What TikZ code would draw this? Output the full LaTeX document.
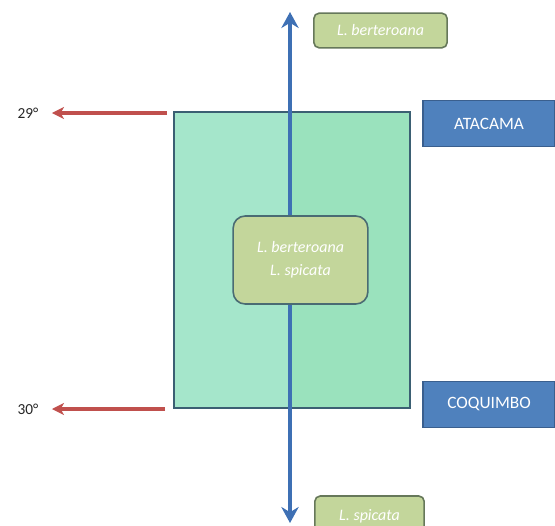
\documentclass[tikz,border=0pt]{standalone}
\usepackage{fontspec}
\setmainfont{Carlito}
\usetikzlibrary{arrows.meta}
\definecolor{zoneL}{HTML}{A5E6CB}
\definecolor{zoneR}{HTML}{9AE2BD}
\definecolor{zoneline}{HTML}{3B5F73}
\definecolor{taxonfill}{HTML}{C3D69B}
\definecolor{taxonline}{HTML}{66785A}
\definecolor{coreline}{HTML}{4A6B73}
\definecolor{provfill}{HTML}{4F81BD}
\definecolor{provline}{HTML}{3A5F8E}
\definecolor{axisblue}{HTML}{3E70B4}
\definecolor{latred}{HTML}{C0504D}
\tikzset{
  zone/.style={draw=zoneline, line width=1.8pt, fill=zoneL, minimum width=177pt, minimum height=222pt,
    path picture={\fill[zoneR] ([xshift=-1.5pt]path picture bounding box.north) rectangle (path picture bounding box.south east);}},
  taxon/.style={draw=taxonline, fill=taxonfill, line width=1.2pt, rounded corners=4pt, text=white,
    font=\fontsize{12}{17}\selectfont\itshape},
  province/.style={draw=provline, fill=provfill, line width=0.8pt, text=white, minimum width=99pt,
    minimum height=35pt, font=\fontsize{13}{15}\selectfont},
  lat/.style={inner sep=0pt, text=black!85, font=\fontsize{11.5}{13}\selectfont},
  axis/.style={draw=axisblue, line width=3pt, {Stealth[length=12pt,width=13pt]}-{Stealth[length=12pt,width=13pt]}},
  latarrow/.style={draw=latred, line width=2.8pt, -{Stealth[length=9pt,width=9pt,inset=2.5pt]}, shorten >=10pt}
}
\begin{document}
\begin{tikzpicture}[x=0.75pt, y=-0.75pt]
\useasboundingbox (0,0) rectangle (555,525);
\node[zone] (zone) at (292,260) {};

\coordinate (top) at (290,12);
\coordinate (bottom) at (290,523);
\draw[axis] (top) -- (bottom);

\node[taxon, minimum width=100pt, minimum height=26pt] (tberte) at (380.5,30.5) {L. berteroana};
\node[taxon, draw=coreline, rounded corners=9pt, align=center, minimum width=101pt, minimum height=66pt] (core) at (300.5,260) {L. berteroana\\L. spicata};
\node[taxon, minimum width=82pt, minimum height=30pt] (tspic) at (369.5,516) {L. spicata};

\node[province] (atacama) at (489,123.5) {ATACAMA};
\node[province] (coquimbo) at (489,404.5) {COQUIMBO};

\node[lat] (l29) at (28,113) {29°};
\node[lat] (l30) at (28,409) {30°};
\coordinate (e29) at (167,113);
\coordinate (e30) at (165,409);
\draw[latarrow] (e29) -- (l29);
\draw[latarrow] (e30) -- (l30);

\end{tikzpicture}
\end{document}
